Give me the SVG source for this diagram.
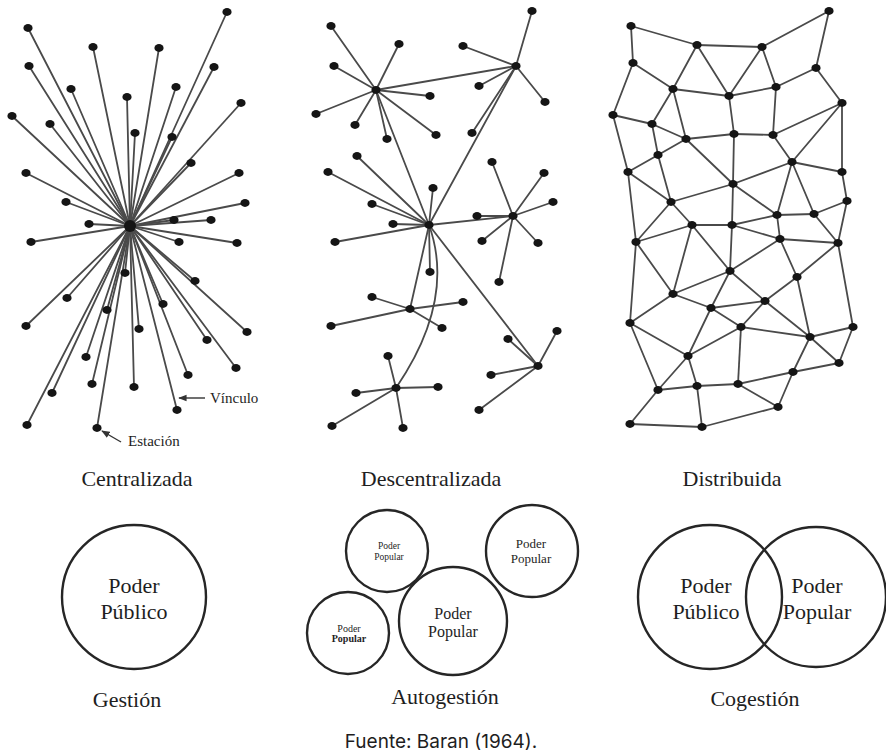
<svg xmlns="http://www.w3.org/2000/svg" width="886" height="756" viewBox="0 0 886 756">
<defs>
<style>
.e{stroke:#4a4a4a;stroke-width:1.8;fill:none;stroke-linecap:round}
.n{fill:#151515}
.k{fill:none;stroke:#262626;stroke-width:2.4}
.t{font-family:"Liberation Serif","Times New Roman",serif;fill:#1e1e1e;text-anchor:middle}
.l{font-size:22px}
.s{font-family:"Inter","Liberation Sans",Arial,sans-serif;fill:#1e1e1e;text-anchor:middle;font-size:19px}
</style>
<marker id="ah" viewBox="0 0 10 10" refX="9" refY="5" markerWidth="6" markerHeight="6" orient="auto">
<path d="M0 1L10 5L0 9z" fill="#333"/>
</marker>
</defs>
<rect width="886" height="756" fill="#fff"/>

<g id="connectors">
<g id="cen-links" class="e">
<path d="M130 226L227 12"/><path d="M130 226L28 28"/><path d="M130 226L93 47"/><path d="M130 226L159 48"/>
<path d="M130 226L29 66"/><path d="M130 226L214 67"/><path d="M130 226L71 89"/><path d="M130 226L176 87"/>
<path d="M130 226L127 97"/><path d="M130 226L241 103"/><path d="M130 226L12 116"/><path d="M130 226L50 124"/>
<path d="M130 226L135 133"/><path d="M130 226L172 137"/><path d="M130 226L191 163"/><path d="M130 226L26 173"/>
<path d="M130 226L239 173"/><path d="M130 226L66 202"/><path d="M130 226L245 203"/><path d="M130 226L89 224"/>
<path d="M130 226L174 220"/><path d="M130 226L211 220"/><path d="M130 226L31 242"/><path d="M130 226L179 242"/>
<path d="M130 226L237 243"/><path d="M130 226L125 273"/><path d="M130 226L195 281"/><path d="M130 226L67 298"/>
<path d="M130 226L107 310"/><path d="M130 226L163 304"/><path d="M130 226L26 326"/><path d="M130 226L139 329"/>
<path d="M130 226L247 332"/><path d="M130 226L207 340"/><path d="M130 226L86 357"/><path d="M130 226L236 368"/>
<path d="M130 226L188 375"/><path d="M130 226L92 384"/><path d="M130 226L52 393"/><path d="M130 226L134 387"/>
<path d="M130 226L177 410"/><path d="M130 226L27 425"/><path d="M130 226L97 428"/>
</g>
<g id="dec-links" class="e">
<path d="M376 90L516 66"/><path d="M376 90L429 225"/><path d="M516 66L429 225"/><path d="M429 225L513 216"/>
<path d="M429 225L410 309"/><path d="M429 225L538 366"/><path d="M429 225Q456 300 396 388"/>
<path d="M376 90L331 26"/><path d="M376 90L399 44"/><path d="M376 90L334 66"/><path d="M376 90L430 96"/>
<path d="M376 90L316 114"/><path d="M376 90L355 125"/><path d="M376 90L387 139"/><path d="M376 90L436 135"/>
<path d="M516 66L532 11"/><path d="M516 66L463 46"/><path d="M516 66L479 86"/><path d="M516 66L545 102"/><path d="M516 66L472 133"/>
<path d="M429 225L357 156"/><path d="M429 225L328 172"/><path d="M429 225L433 188"/><path d="M429 225L372 204"/>
<path d="M429 225L393 224"/><path d="M429 225L335 242"/><path d="M429 225L430 272"/>
<path d="M513 216L492 162"/><path d="M513 216L544 173"/><path d="M513 216L553 202"/><path d="M513 216L477 216"/>
<path d="M513 216L482 241"/><path d="M513 216L538 243"/><path d="M513 216L499 282"/>
<path d="M410 309L372 297"/><path d="M410 309L463 302"/><path d="M410 309L331 326"/><path d="M410 309L442 328"/>
<path d="M396 388L388 356"/><path d="M396 388L356 393"/><path d="M396 388L438 387"/><path d="M396 388L332 426"/><path d="M396 388L403 428"/>
<path d="M538 366L508 339"/><path d="M538 366L557 331"/><path d="M538 366L491 375"/><path d="M538 366L479 410"/>
</g>
<g id="dis-links" class="e">
<path d="M631 26L697 45"/><path d="M631 26L633 63"/><path d="M697 45L762 47"/><path d="M697 45L673 89"/>
<path d="M697 45L729 96"/><path d="M762 47L829 11"/><path d="M762 47L729 96"/><path d="M762 47L776 87"/>
<path d="M829 11L816 68"/><path d="M633 63L673 89"/><path d="M633 63L613 115"/><path d="M816 68L776 87"/>
<path d="M816 68L842 103"/><path d="M673 89L729 96"/><path d="M673 89L652 124"/><path d="M673 89L686 139"/>
<path d="M729 96L776 87"/><path d="M729 96L734 134"/><path d="M776 87L773 135"/><path d="M842 103L773 135"/>
<path d="M842 103L792 162"/><path d="M842 103L842 172"/><path d="M613 115L652 124"/><path d="M613 115L628 172"/>
<path d="M652 124L686 139"/><path d="M652 124L658 155"/><path d="M686 139L734 134"/><path d="M686 139L733 184"/>
<path d="M686 139L658 155"/><path d="M734 134L773 135"/><path d="M734 134L733 184"/><path d="M773 135L792 162"/>
<path d="M658 155L628 172"/><path d="M658 155L671 202"/><path d="M792 162L842 172"/><path d="M792 162L733 184"/>
<path d="M792 162L777 215"/><path d="M792 162L814 214"/><path d="M628 172L671 202"/><path d="M628 172L636 242"/>
<path d="M842 172L847 201"/><path d="M733 184L671 202"/><path d="M733 184L732 225"/><path d="M733 184L777 215"/>
<path d="M671 202L692 225"/><path d="M671 202L636 242"/><path d="M847 201L814 214"/><path d="M847 201L838 243"/>
<path d="M777 215L814 214"/><path d="M777 215L780 239"/><path d="M732 225L777 215"/><path d="M732 225L780 239"/>
<path d="M814 214L838 243"/><path d="M780 239L838 243"/><path d="M692 225L732 225"/><path d="M692 225L730 271"/>
<path d="M732 225L730 271"/><path d="M692 225L673 294"/><path d="M636 242L692 225"/><path d="M636 242L673 294"/>
<path d="M636 242L630 323"/><path d="M730 271L780 239"/><path d="M780 239L797 277"/><path d="M838 243L797 277"/>
<path d="M838 243L853 327"/><path d="M730 271L673 294"/><path d="M730 271L711 308"/><path d="M730 271L765 301"/>
<path d="M797 277L765 301"/><path d="M797 277L810 337"/><path d="M673 294L630 323"/><path d="M673 294L711 308"/>
<path d="M711 308L765 301"/><path d="M711 308L741 327"/><path d="M765 301L741 327"/><path d="M765 301L810 337"/>
<path d="M711 308L688 356"/><path d="M630 323L688 356"/><path d="M630 323L658 390"/><path d="M741 327L688 356"/>
<path d="M741 327L810 337"/><path d="M741 327L738 384"/><path d="M810 337L853 327"/><path d="M810 337L839 363"/>
<path d="M853 327L839 363"/><path d="M810 337L793 372"/><path d="M688 356L658 390"/><path d="M688 356L697 386"/>
<path d="M658 390L697 386"/><path d="M697 386L738 384"/><path d="M738 384L793 372"/><path d="M793 372L839 363"/>
<path d="M738 384L778 407"/><path d="M793 372L778 407"/><path d="M658 390L630 424"/><path d="M697 386L702 427"/>
<path d="M630 424L702 427"/><path d="M702 427L778 407"/>
</g>
<g id="callouts" stroke="#333" stroke-width="1.4" fill="none">
<path d="M205 398L179 398" marker-end="url(#ah)"/>
<path d="M121 442L102 431" marker-end="url(#ah)"/>
</g>
</g>

<g id="centralizada-nodes" class="n">
<g id="c0"><circle cx="130" cy="226" r="6"/></g>
<g id="c1"><ellipse cx="227" cy="12" rx="4.6" ry="3.9"/></g>
<g id="c2"><ellipse cx="28" cy="28" rx="4.6" ry="3.9"/></g>
<g id="c3"><ellipse cx="93" cy="47" rx="4.6" ry="3.9"/></g>
<g id="c4"><ellipse cx="159" cy="48" rx="4.6" ry="3.9"/></g>
<g id="c5"><ellipse cx="29" cy="66" rx="4.6" ry="3.9"/></g>
<g id="c6"><ellipse cx="214" cy="67" rx="4.6" ry="3.9"/></g>
<g id="c7"><ellipse cx="71" cy="89" rx="4.6" ry="3.9"/></g>
<g id="c8"><ellipse cx="176" cy="87" rx="4.6" ry="3.9"/></g>
<g id="c9"><ellipse cx="127" cy="97" rx="4.6" ry="3.9"/></g>
<g id="c10"><ellipse cx="241" cy="103" rx="4.6" ry="3.9"/></g>
<g id="c11"><ellipse cx="12" cy="116" rx="4.6" ry="3.9"/></g>
<g id="c12"><ellipse cx="50" cy="124" rx="4.6" ry="3.9"/></g>
<g id="c13"><ellipse cx="135" cy="133" rx="4.6" ry="3.9"/></g>
<g id="c14"><ellipse cx="172" cy="137" rx="4.6" ry="3.9"/></g>
<g id="c15"><ellipse cx="191" cy="163" rx="4.6" ry="3.9"/></g>
<g id="c16"><ellipse cx="26" cy="173" rx="4.6" ry="3.9"/></g>
<g id="c17"><ellipse cx="239" cy="173" rx="4.6" ry="3.9"/></g>
<g id="c18"><ellipse cx="66" cy="202" rx="4.6" ry="3.9"/></g>
<g id="c19"><ellipse cx="245" cy="203" rx="4.6" ry="3.9"/></g>
<g id="c20"><ellipse cx="89" cy="224" rx="4.6" ry="3.9"/></g>
<g id="c21"><ellipse cx="174" cy="220" rx="4.6" ry="3.9"/></g>
<g id="c22"><ellipse cx="211" cy="220" rx="4.6" ry="3.9"/></g>
<g id="c23"><ellipse cx="31" cy="242" rx="4.6" ry="3.9"/></g>
<g id="c24"><ellipse cx="179" cy="242" rx="4.6" ry="3.9"/></g>
<g id="c25"><ellipse cx="237" cy="243" rx="4.6" ry="3.9"/></g>
<g id="c26"><ellipse cx="125" cy="273" rx="4.6" ry="3.9"/></g>
<g id="c27"><ellipse cx="195" cy="281" rx="4.6" ry="3.9"/></g>
<g id="c28"><ellipse cx="67" cy="298" rx="4.6" ry="3.9"/></g>
<g id="c29"><ellipse cx="107" cy="310" rx="4.6" ry="3.9"/></g>
<g id="c30"><ellipse cx="163" cy="304" rx="4.6" ry="3.9"/></g>
<g id="c31"><ellipse cx="26" cy="326" rx="4.6" ry="3.9"/></g>
<g id="c32"><ellipse cx="139" cy="329" rx="4.6" ry="3.9"/></g>
<g id="c33"><ellipse cx="247" cy="332" rx="4.6" ry="3.9"/></g>
<g id="c34"><ellipse cx="207" cy="340" rx="4.6" ry="3.9"/></g>
<g id="c35"><ellipse cx="86" cy="357" rx="4.6" ry="3.9"/></g>
<g id="c36"><ellipse cx="236" cy="368" rx="4.6" ry="3.9"/></g>
<g id="c37"><ellipse cx="188" cy="375" rx="4.6" ry="3.9"/></g>
<g id="c38"><ellipse cx="92" cy="384" rx="4.6" ry="3.9"/></g>
<g id="c39"><ellipse cx="52" cy="393" rx="4.6" ry="3.9"/></g>
<g id="c40"><ellipse cx="134" cy="387" rx="4.6" ry="3.9"/></g>
<g id="c41"><ellipse cx="177" cy="410" rx="4.6" ry="3.9"/></g>
<g id="c42"><ellipse cx="27" cy="425" rx="4.6" ry="3.9"/></g>
<g id="c43"><ellipse cx="97" cy="428" rx="4.6" ry="3.9"/></g>
</g>

<g id="descentralizada-nodes" class="n">
<g id="dA"><ellipse cx="376" cy="90" rx="4.6" ry="3.9"/></g>
<g id="dB"><ellipse cx="516" cy="66" rx="4.6" ry="3.9"/></g>
<g id="dC"><ellipse cx="429" cy="225" rx="4.6" ry="3.9"/></g>
<g id="dD"><ellipse cx="513" cy="216" rx="4.6" ry="3.9"/></g>
<g id="dE"><ellipse cx="410" cy="309" rx="4.6" ry="3.9"/></g>
<g id="dF"><ellipse cx="396" cy="388" rx="4.6" ry="3.9"/></g>
<g id="dG"><ellipse cx="538" cy="366" rx="4.6" ry="3.9"/></g>
<g id="a1"><ellipse cx="331" cy="26" rx="4.6" ry="3.9"/></g>
<g id="a2"><ellipse cx="399" cy="44" rx="4.6" ry="3.9"/></g>
<g id="a3"><ellipse cx="334" cy="66" rx="4.6" ry="3.9"/></g>
<g id="a4"><ellipse cx="430" cy="96" rx="4.6" ry="3.9"/></g>
<g id="a5"><ellipse cx="316" cy="114" rx="4.6" ry="3.9"/></g>
<g id="a6"><ellipse cx="355" cy="125" rx="4.6" ry="3.9"/></g>
<g id="a7"><ellipse cx="387" cy="139" rx="4.6" ry="3.9"/></g>
<g id="a8"><ellipse cx="436" cy="135" rx="4.6" ry="3.9"/></g>
<g id="b1"><ellipse cx="532" cy="11" rx="4.6" ry="3.9"/></g>
<g id="b2"><ellipse cx="463" cy="46" rx="4.6" ry="3.9"/></g>
<g id="b3"><ellipse cx="479" cy="86" rx="4.6" ry="3.9"/></g>
<g id="b4"><ellipse cx="545" cy="102" rx="4.6" ry="3.9"/></g>
<g id="b5"><ellipse cx="472" cy="133" rx="4.6" ry="3.9"/></g>
<g id="x1"><ellipse cx="357" cy="156" rx="4.6" ry="3.9"/></g>
<g id="x2"><ellipse cx="328" cy="172" rx="4.6" ry="3.9"/></g>
<g id="x3"><ellipse cx="433" cy="188" rx="4.6" ry="3.9"/></g>
<g id="x4"><ellipse cx="372" cy="204" rx="4.6" ry="3.9"/></g>
<g id="x5"><ellipse cx="393" cy="224" rx="4.6" ry="3.9"/></g>
<g id="x6"><ellipse cx="335" cy="242" rx="4.6" ry="3.9"/></g>
<g id="x7"><ellipse cx="430" cy="272" rx="4.6" ry="3.9"/></g>
<g id="y1"><ellipse cx="492" cy="162" rx="4.6" ry="3.9"/></g>
<g id="y2"><ellipse cx="544" cy="173" rx="4.6" ry="3.9"/></g>
<g id="y3"><ellipse cx="553" cy="202" rx="4.6" ry="3.9"/></g>
<g id="y4"><ellipse cx="477" cy="216" rx="4.6" ry="3.9"/></g>
<g id="y5"><ellipse cx="482" cy="241" rx="4.6" ry="3.9"/></g>
<g id="y6"><ellipse cx="538" cy="243" rx="4.6" ry="3.9"/></g>
<g id="y7"><ellipse cx="499" cy="282" rx="4.6" ry="3.9"/></g>
<g id="e1"><ellipse cx="372" cy="297" rx="4.6" ry="3.9"/></g>
<g id="e2"><ellipse cx="463" cy="302" rx="4.6" ry="3.9"/></g>
<g id="e3"><ellipse cx="331" cy="326" rx="4.6" ry="3.9"/></g>
<g id="e4"><ellipse cx="442" cy="328" rx="4.6" ry="3.9"/></g>
<g id="f1"><ellipse cx="388" cy="356" rx="4.6" ry="3.9"/></g>
<g id="f2"><ellipse cx="356" cy="393" rx="4.6" ry="3.9"/></g>
<g id="f3"><ellipse cx="438" cy="387" rx="4.6" ry="3.9"/></g>
<g id="f4"><ellipse cx="332" cy="426" rx="4.6" ry="3.9"/></g>
<g id="f5"><ellipse cx="403" cy="428" rx="4.6" ry="3.9"/></g>
<g id="g1"><ellipse cx="508" cy="339" rx="4.6" ry="3.9"/></g>
<g id="g2"><ellipse cx="557" cy="331" rx="4.6" ry="3.9"/></g>
<g id="g3"><ellipse cx="491" cy="375" rx="4.6" ry="3.9"/></g>
<g id="g4"><ellipse cx="479" cy="410" rx="4.6" ry="3.9"/></g>
</g>

<g id="distribuida-nodes" class="n">
<g id="d1"><ellipse cx="631" cy="26" rx="4.6" ry="3.9"/></g>
<g id="d2"><ellipse cx="697" cy="45" rx="4.6" ry="3.9"/></g>
<g id="d3"><ellipse cx="762" cy="47" rx="4.6" ry="3.9"/></g>
<g id="d4"><ellipse cx="829" cy="11" rx="4.6" ry="3.9"/></g>
<g id="d5"><ellipse cx="633" cy="63" rx="4.6" ry="3.9"/></g>
<g id="d6"><ellipse cx="816" cy="68" rx="4.6" ry="3.9"/></g>
<g id="d7"><ellipse cx="673" cy="89" rx="4.6" ry="3.9"/></g>
<g id="d8"><ellipse cx="729" cy="96" rx="4.6" ry="3.9"/></g>
<g id="d9"><ellipse cx="776" cy="87" rx="4.6" ry="3.9"/></g>
<g id="d10"><ellipse cx="842" cy="103" rx="4.6" ry="3.9"/></g>
<g id="d11"><ellipse cx="613" cy="115" rx="4.6" ry="3.9"/></g>
<g id="d12"><ellipse cx="652" cy="124" rx="4.6" ry="3.9"/></g>
<g id="d13"><ellipse cx="686" cy="139" rx="4.6" ry="3.9"/></g>
<g id="d14"><ellipse cx="734" cy="134" rx="4.6" ry="3.9"/></g>
<g id="d15"><ellipse cx="773" cy="135" rx="4.6" ry="3.9"/></g>
<g id="d16"><ellipse cx="658" cy="155" rx="4.6" ry="3.9"/></g>
<g id="d17"><ellipse cx="792" cy="162" rx="4.6" ry="3.9"/></g>
<g id="d18"><ellipse cx="628" cy="172" rx="4.6" ry="3.9"/></g>
<g id="d19"><ellipse cx="842" cy="172" rx="4.6" ry="3.9"/></g>
<g id="d20"><ellipse cx="733" cy="184" rx="4.6" ry="3.9"/></g>
<g id="d21"><ellipse cx="671" cy="202" rx="4.6" ry="3.9"/></g>
<g id="d22"><ellipse cx="847" cy="201" rx="4.6" ry="3.9"/></g>
<g id="d23"><ellipse cx="777" cy="215" rx="4.6" ry="3.9"/></g>
<g id="d24"><ellipse cx="814" cy="214" rx="4.6" ry="3.9"/></g>
<g id="d25"><ellipse cx="692" cy="225" rx="4.6" ry="3.9"/></g>
<g id="d26"><ellipse cx="732" cy="225" rx="4.6" ry="3.9"/></g>
<g id="d27"><ellipse cx="636" cy="242" rx="4.6" ry="3.9"/></g>
<g id="d28"><ellipse cx="780" cy="239" rx="4.6" ry="3.9"/></g>
<g id="d29"><ellipse cx="838" cy="243" rx="4.6" ry="3.9"/></g>
<g id="d30"><ellipse cx="730" cy="271" rx="4.6" ry="3.9"/></g>
<g id="d31"><ellipse cx="797" cy="277" rx="4.6" ry="3.9"/></g>
<g id="d32"><ellipse cx="673" cy="294" rx="4.6" ry="3.9"/></g>
<g id="d33"><ellipse cx="765" cy="301" rx="4.6" ry="3.9"/></g>
<g id="d34"><ellipse cx="711" cy="308" rx="4.6" ry="3.9"/></g>
<g id="d35"><ellipse cx="630" cy="323" rx="4.6" ry="3.9"/></g>
<g id="d36"><ellipse cx="741" cy="327" rx="4.6" ry="3.9"/></g>
<g id="d37"><ellipse cx="853" cy="327" rx="4.6" ry="3.9"/></g>
<g id="d38"><ellipse cx="810" cy="337" rx="4.6" ry="3.9"/></g>
<g id="d39"><ellipse cx="688" cy="356" rx="4.6" ry="3.9"/></g>
<g id="d40"><ellipse cx="839" cy="363" rx="4.6" ry="3.9"/></g>
<g id="d41"><ellipse cx="793" cy="372" rx="4.6" ry="3.9"/></g>
<g id="d42"><ellipse cx="658" cy="390" rx="4.6" ry="3.9"/></g>
<g id="d43"><ellipse cx="697" cy="386" rx="4.6" ry="3.9"/></g>
<g id="d44"><ellipse cx="738" cy="384" rx="4.6" ry="3.9"/></g>
<g id="d45"><ellipse cx="778" cy="407" rx="4.6" ry="3.9"/></g>
<g id="d46"><ellipse cx="630" cy="424" rx="4.6" ry="3.9"/></g>
<g id="d47"><ellipse cx="702" cy="427" rx="4.6" ry="3.9"/></g>
</g>

<g id="callout-labels" class="t" style="font-size:15px;text-anchor:start">
<text x="210" y="403">Vínculo</text>
<text x="128" y="446">Estación</text>
</g>

<g id="titles" class="t l">
<text x="137" y="486">Centralizada</text>
<text x="431" y="486">Descentralizada</text>
<text x="732" y="486">Distribuida</text>
</g>

<g id="gestion">
<circle class="k" cx="134" cy="597" r="72"/>
<text class="t l" x="134" y="593">Poder</text>
<text class="t l" x="134" y="619">Público</text>
</g>

<g id="pp-tl">
<circle class="k" cx="387" cy="551" r="41"/>
<text class="t" style="font-size:9.5px" x="389" y="549">Poder</text>
<text class="t" style="font-size:9.5px" x="389" y="560">Popular</text>
</g>
<g id="pp-tr">
<circle class="k" cx="532" cy="551" r="46"/>
<text class="t" style="font-size:13px" x="531" y="548">Poder</text>
<text class="t" style="font-size:13px" x="531" y="563">Popular</text>
</g>
<g id="pp-bl">
<circle class="k" cx="348" cy="633" r="41"/>
<text class="t" style="font-size:10px" x="349" y="632">Poder</text>
<text class="t" style="font-size:10px;font-weight:bold" x="349" y="642">Popular</text>
</g>
<g id="pp-big">
<circle class="k" cx="453" cy="621" r="54"/>
<text class="t" style="font-size:16px" x="453" y="619">Poder</text>
<text class="t" style="font-size:16px" x="453" y="637">Popular</text>
</g>

<g id="cog-publico">
<circle class="k" cx="710" cy="597" r="72"/>
<text class="t l" x="706" y="593">Poder</text>
<text class="t l" x="706" y="619">Público</text>
</g>
<g id="cog-popular">
<circle class="k" cx="816" cy="597" r="70"/>
<text class="t l" x="817" y="593">Poder</text>
<text class="t l" x="817" y="619">Popular</text>
</g>

<g id="bottom-labels" class="t l">
<text x="127" y="707">Gestión</text>
<text x="445" y="704">Autogestión</text>
<text x="755" y="706">Cogestión</text>
</g>

<text id="fuente" class="s" x="441" y="748">Fuente: Baran (1964).</text>
</svg>
